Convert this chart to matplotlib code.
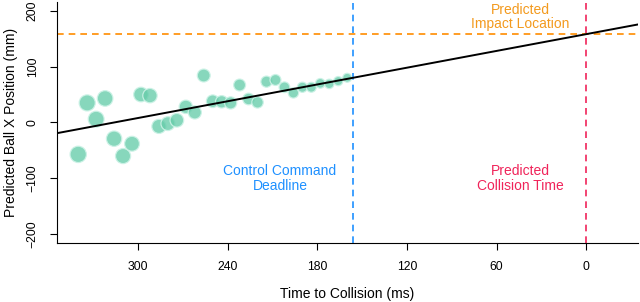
import matplotlib
matplotlib.use('Agg')
import matplotlib.pyplot as plt
import numpy as np

plt.rcParams['font.family'] = ['Liberation Sans', 'DejaVu Sans']

# time to collision of each estimate (ms) and the predicted ball x (mm)
ttc = [340, 334, 328, 322, 316, 310, 304, 298, 292, 286, 280, 274, 268, 262, 256, 250,
       244, 238, 232, 226, 220, 214, 208, 202, 196, 190, 184, 178, 172, 166, 160]
pred_x = [-57, 35, 6, 43, -29, -60, -38, 50, 48, -7, -2, 4, 28, 18, 84, 38,
          37, 35, 67, 42, 36, 73, 76, 63, 53, 63, 63, 70, 69, 74, 80]

impact_x = 158        # mm
deadline = 156        # ms
fit_slope = -0.5      # mm per ms of ttc

# -------------------------------------------------- #

fig = plt.figure(figsize=(6.4, 3.02), dpi=100)
ax = fig.add_axes([0.0886, 0.1944, 0.9078, 0.800])

ttc_arr = np.array(ttc)
diam = 2.4 + 0.041 * ttc_arr          # marker diameter in px, shrinks near collision
ax.scatter(ttc, pred_x, s=(diam * 0.72) ** 2, facecolor=(0.40, 0.80, 0.667, 0.78),
           edgecolor=(0.80, 0.95, 0.90, 0.9), linewidth=0.9, zorder=3)

xs = np.array([360, -40])
ax.plot(xs, impact_x + fit_slope * xs, color='black', lw=1.4, zorder=4)

ax.axhline(impact_x, color='#ff8c00', ls=(0, (4, 3)), lw=1.2)
ax.axvline(deadline, color='#1e90ff', ls=(0, (4, 3)), lw=1.2)
ax.axvline(0, color='#f0245a', ls=(0, (4, 3)), lw=1.2)

ax.text(205, -100, 'Control Command\nDeadline', color='#1e90ff', ha='center',
        va='center', fontsize=10, linespacing=1.05)
ax.text(44, -100, 'Predicted\nCollision Time', color='#f0245a', ha='center',
        va='center', fontsize=10, linespacing=1.05)
ax.text(44, 189, 'Predicted\nImpact Location', color='#f39a1e', ha='center',
        va='center', fontsize=10, linespacing=1.05)

ax.set_xlim(354.4, -34.4)
ax.set_ylim(-216, 216)
ax.set_xticks([300, 240, 180, 120, 60, 0])
ax.set_yticks([-200, -100, 0, 100, 200])
ax.set_yticklabels(['\u2212200', '\u2212100', '0', '100', '200'], rotation=90, va='center')
ax.tick_params(labelsize=8.8, length=5, width=0.8, pad=8)
ax.set_xlabel('Time to Collision (ms)', fontsize=10, labelpad=10)
ax.set_ylabel('Predicted Ball X Position (mm)', fontsize=10, labelpad=6)

for side in ['top', 'right']:
    ax.spines[side].set_visible(False)
for side in ['left', 'bottom']:
    ax.spines[side].set_linewidth(0.8)

fig.savefig('out.png', dpi=100)
